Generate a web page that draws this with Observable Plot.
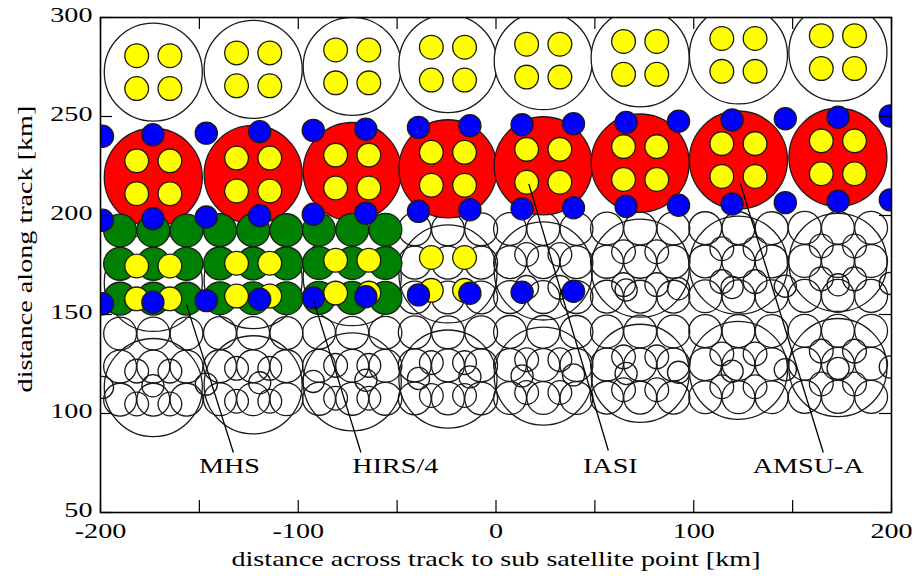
<!DOCTYPE html>
<html>
<head>
<meta charset="utf-8">
<script src="https://cdn.jsdelivr.net/npm/d3@7"></script>
<script src="https://cdn.jsdelivr.net/npm/@observablehq/plot@0.6"></script>
<style>
  html, body { margin: 0; padding: 0; background: #fff; }
</style>
</head>
<body>
<div id="chart"></div>
<script>
// ---- AMSU-A footprints (8 across-track columns, 4 scan lines) ----
const amsuX = [-173.3, -122.8, -72.7, -24.3, 23.9, 72.9, 122.6, 172.9];
const amsuTilt = [0, 1.4, 2.9, 4.3, 5.8, 7.2, 8.7, 10.1];
const amsuRowY = [272.4, 219.3, 166.2, 113.1];
const amsuR = 24.8;

// ---- IASI pixels (2x2 inside each AMSU-A footprint) ----
const iasiDX = [-8.4, 8.4];
const iasiDY = [8.3, -8.3];
const iasiR = 6.0;

// ---- MHS footprints (3x3 per AMSU-A footprint) ----
const mhsDX = [-16.8, 0, 16.8];
const mhsRowsUpper = [192.4, 175.6, 158.0];
const mhsRowsLower = [140.4, 123.7, 107.0];
const mhsTilt = [0, 0.2, 0.4, 0.6, 0.8, 1.0, 1.2, 1.4];
const mhsR = 8.3;

// ---- HIRS/4 footprints ----
const hirsX = [-199.0, -173.5, -146.5, -119.5, -92.4, -65.8, -39.2, -13.2, 13.2, 39.2, 65.8, 92.3, 119.4, 146.3, 173.0, 199.4];
const hirsTilt = [0, 0.8, 1.6, 2.3, 3.0, 3.6, 4.5, 5.3, 5.8, 6.3, 7.0, 7.6, 8.2, 8.9, 9.6, 10.3];
const hirsRowY = [240.0, 197.6, 155.4, 113.2];
const hirsR = 5.6;

// ---- annotations ----
const labelNames = ["MHS", "HIRS/4", "IASI", "AMSU-A"];
const labelX = [-134.8, -50.9, 57.8, 157.9];
const labelY = [73.7, 73.7, 73.7, 73.7];
const leaderX1 = [-156.5, -92.2, 16.6, 123.6];
const leaderY1 = [155.0, 157.0, 216.0, 216.0];
const leaderX2 = [-132.8, -68.3, 56.8, 165.5];
const leaderY2 = [80.3, 80.3, 81.3, 80.3];

// ---- axes ----
const xTicks = [-200, -150, -100, -50, 0, 50, 100, 150, 200];
const xTickLabels = [-200, -100, 0, 100, 200];
const yTicks = [50, 100, 150, 200, 250, 300];
const xTitle = "distance across track to sub satellite point [km]";
const yTitle = "distance along track [km]";

// ---- layout ----
const W = 914, H = 576;
const mL = 100, mR = 23, mT = 17, mB = 64;
const fw = W - mL - mR, fh = H - mT - mB;
const ppk = fw / 400; // pixels per km

// ---- build tables ----
const amsu = amsuRowY.flatMap((y, r) => amsuX.map((x, c) => ({r, c, x, y: y + amsuTilt[c]})));
const iasi = amsuRowY.flatMap((y, r) => amsuX.flatMap((x, c) =>
  iasiDY.flatMap(dy => iasiDX.map(dx => ({r, c, x: x + dx, y: y + amsuTilt[c] + dy})))));
const mhs = [mhsRowsUpper, mhsRowsLower].flatMap((rows, b) => amsuX.flatMap((x, c) =>
  rows.flatMap(y => mhsDX.map(dx => ({b, c, x: x + dx, y: y + mhsTilt[c]})))));
const hirs = hirsRowY.flatMap((y, r) => hirsX.map((x, i) => ({r, i, x, y: y + hirsTilt[i]})));
const labels = labelNames.map((t, i) => ({t, x: labelX[i], y: labelY[i]}));
const leaders = labelNames.map((t, i) => ({x1: leaderX1[i], y1: leaderY1[i], x2: leaderX2[i], y2: leaderY2[i]}));

const stroke = "#1a1a1a";
const sw = 1.3;

const chart = Plot.plot({
  width: W, height: H,
  marginLeft: mL, marginRight: mR, marginTop: mT, marginBottom: mB,
  x: {domain: [-200, 200], axis: null},
  y: {domain: [50, 300], axis: null},
  style: {fontFamily: "'Liberation Serif', 'Times New Roman', serif", fontSize: "22px", background: "#fff", color: "#000"},
  marks: [
    // lower outline footprints
    Plot.dot(amsu.filter(d => d.r >= 2), {x: "x", y: "y", r: amsuR * ppk, stroke, strokeWidth: sw, fill: "none", clip: true}),
    Plot.dot(mhs.filter(d => d.b === 1 || d.c >= 3), {x: "x", y: "y", r: mhsR * ppk, stroke, strokeWidth: sw, fill: "none", clip: true}),
    Plot.dot(iasi.filter(d => d.r === 3 || (d.r === 2 && d.c >= 4)), {x: "x", y: "y", r: iasiR * ppk, stroke, strokeWidth: sw, fill: "none", clip: true}),
    Plot.dot(hirs.filter(d => d.r === 3 || (d.r === 2 && d.i >= 10)), {x: "x", y: "y", r: hirsR * ppk, stroke, strokeWidth: sw, fill: "none", clip: true}),
    // top AMSU-A lines
    Plot.dot(amsu.filter(d => d.r === 0), {x: "x", y: "y", r: amsuR * ppk, stroke, strokeWidth: sw, fill: "#fff", clip: true}),
    Plot.dot(amsu.filter(d => d.r === 1), {x: "x", y: "y", r: amsuR * ppk, stroke, strokeWidth: sw, fill: "#ff0000", clip: true}),
    // MHS filled
    Plot.dot(mhs.filter(d => d.b === 0 && d.c <= 2), {x: "x", y: "y", r: mhsR * ppk, stroke, strokeWidth: sw, fill: "#008000", clip: true}),
    // IASI filled
    Plot.dot(iasi.filter(d => d.r <= 1 || (d.r === 2 && d.c <= 3)), {x: "x", y: "y", r: iasiR * ppk, stroke, strokeWidth: sw, fill: "#ffff00", clip: true}),
    // HIRS filled
    Plot.dot(hirs.filter(d => d.r <= 1 || (d.r === 2 && d.i <= 9)), {x: "x", y: "y", r: hirsR * ppk, stroke, strokeWidth: sw, fill: "#0000ff", clip: true}),
    // leaders and labels
    Plot.link(leaders, {x1: "x1", y1: "y1", x2: "x2", y2: "y2", stroke: "#000", strokeWidth: 1.3}),
    Plot.text(labels, {x: "x", y: "y", text: "t", fill: "#000"}),
    // ticks inside the frame
    Plot.tickX(xTicks, {x: d => d, insetTop: fh - 12, stroke: "#000", strokeWidth: 1.2}),
    Plot.tickX(xTicks, {x: d => d, insetBottom: fh - 12, stroke: "#000", strokeWidth: 1.2}),
    Plot.tickY(yTicks, {y: d => d, insetRight: fw - 12, stroke: "#000", strokeWidth: 1.2}),
    Plot.tickY(yTicks, {y: d => d, insetLeft: fw - 12, stroke: "#000", strokeWidth: 1.2}),
    Plot.frame({stroke: "#000", strokeWidth: 1.6}),
    // axes
    Plot.axisX(xTickLabels, {tickSize: 0, tickPadding: 10, tickFormat: d => String(d), label: null}),
    Plot.axisY(yTicks, {tickSize: 0, tickPadding: 8, dy: -3, tickFormat: d => String(d), label: null}),
    Plot.text([xTitle], {frameAnchor: "bottom", dy: 53, text: d => d, fill: "#000"}),
    Plot.text([yTitle], {frameAnchor: "left", textAnchor: "middle", dx: -76, dy: -16, rotate: -90, text: d => d, fill: "#000"})
  ]
});

// the reference typeface is set wide: stretch glyphs horizontally
chart.querySelectorAll("text").forEach(t => {
  const tr = t.getAttribute("transform");
  if (tr) t.setAttribute("transform", tr + " scale(1.28,1)");
});

document.getElementById("chart").appendChild(chart);
</script>
</body>
</html>
